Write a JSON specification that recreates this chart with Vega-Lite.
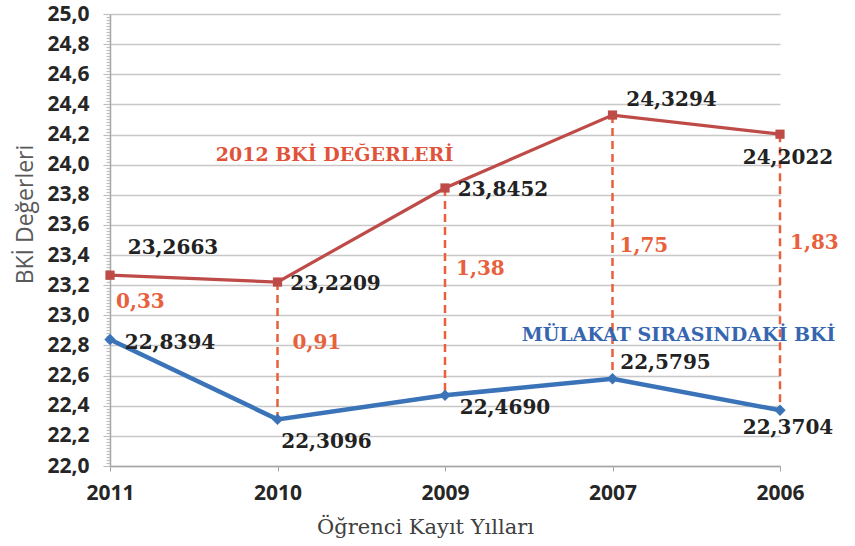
{
  "$schema": "https://vega.github.io/schema/vega-lite/v6.json",
  "width": 670,
  "height": 452,
  "autosize": "none",
  "padding": {"left": 110, "top": 14, "right": 75, "bottom": 80},
  "background": "white",
  "config": {"view": {"stroke": null}},
  "data": {"values": [
    {"year": "2011", "red": 23.2663, "blue": 22.8394, "redLabel": "23,2663", "blueLabel": "22,8394", "diff": "0,33"},
    {"year": "2010", "red": 23.2209, "blue": 22.3096, "redLabel": "23,2209", "blueLabel": "22,3096", "diff": "0,91"},
    {"year": "2009", "red": 23.8452, "blue": 22.4690, "redLabel": "23,8452", "blueLabel": "22,4690", "diff": "1,38"},
    {"year": "2007", "red": 24.3294, "blue": 22.5795, "redLabel": "24,3294", "blueLabel": "22,5795", "diff": "1,75"},
    {"year": "2006", "red": 24.2022, "blue": 22.3704, "redLabel": "24,2022", "blueLabel": "22,3704", "diff": "1,83"}
  ]},
  "encoding": {
    "x": {
      "field": "year", "type": "ordinal",
      "sort": ["2011", "2010", "2009", "2007", "2006"],
      "scale": {"type": "point", "padding": 0},
      "axis": {
        "title": "Öğrenci Kayıt Yılları",
        "titleFont": "DejaVu Serif", "titleFontSize": 21, "titleFontWeight": "normal", "titleColor": "#404040",
        "titleX": 315, "titleY": 61, "titleAlign": "center", "titleBaseline": "middle",
        "labelAngle": 0, "labelFont": "Open Sans", "labelFontWeight": "bold", "labelFontSize": 21,
        "labelColor": "#262626", "labelPadding": 11,
        "tickColor": "#A6A6A6", "tickSize": 5, "domainColor": "#A6A6A6", "domainWidth": 1.5, "grid": false
      }
    }
  },
  "layer": [
    {
      "transform": [{"filter": "datum.year != '2011'"}],
      "mark": {"type": "rule", "color": "#E8603C", "strokeDash": [8, 5], "strokeWidth": 2.5},
      "encoding": {
        "y": {
          "field": "red", "type": "quantitative",
          "scale": {"domain": [22, 25], "nice": false, "zero": false},
          "axis": {
            "title": "BKİ Değerleri",
            "titleFont": "Open Sans", "titleFontSize": 23, "titleFontWeight": "normal", "titleColor": "#595959",
            "titleX": -85, "titleY": 200, "titleAngle": -90, "titleAlign": "center", "titleBaseline": "middle",
            "tickCount": 150, "labelOverlap": false,
            "labelExpr": "abs(datum.value*5 - round(datum.value*5)) < 0.01 ? replace(format(datum.value, '.1f'), '.', ',') : ''",
            "labelFont": "Open Sans", "labelFontWeight": "bold", "labelFontSize": 21, "labelColor": "#262626",
            "labelPadding": 14,
            "tickColor": "#BFBFBF", "tickWidth": 1.2,
            "tickSize": {"condition": {"test": "abs(datum.value*5 - round(datum.value*5)) < 0.01", "value": 7}, "value": 4},
            "gridColor": "#C8C8C8", "gridWidth": 1.5,
            "gridOpacity": {"condition": {"test": "abs(datum.value*5 - round(datum.value*5)) < 0.01", "value": 1}, "value": 0},
            "domainColor": "#A6A6A6", "domainWidth": 1.5
          }
        },
        "y2": {"field": "blue"}
      }
    },
    {
      "mark": {"type": "line", "color": "#BE4B48", "strokeWidth": 3.2,
        "point": {"shape": "square", "size": 85, "filled": true, "color": "#BE4B48"}},
      "encoding": {"y": {"field": "red", "type": "quantitative"}}
    },
    {
      "mark": {"type": "line", "color": "#3B73B9", "strokeWidth": 4.5,
        "point": {"shape": "diamond", "size": 130, "filled": true, "color": "#3B73B9"}},
      "encoding": {"y": {"field": "blue", "type": "quantitative"}}
    },
    {
      "transform": [{"filter": "datum.year == '2010'"}],
      "mark": {"type": "text", "font": "DejaVu Serif", "fontWeight": "bold", "fontSize": 19, "color": "#E0533A",
        "align": "center", "baseline": "middle", "dx": 57, "dy": -127},
      "encoding": {"y": {"field": "red", "type": "quantitative"}, "text": {"value": "2012 BKİ DEĞERLERİ"}}
    },
    {
      "transform": [{"filter": "datum.year == '2007'"}],
      "mark": {"type": "text", "font": "DejaVu Serif", "fontWeight": "bold", "fontSize": 19, "color": "#3666B0",
        "align": "center", "baseline": "middle", "dx": 66, "dy": -44},
      "encoding": {"y": {"field": "blue", "type": "quantitative"}, "text": {"value": "MÜLAKAT SIRASINDAKİ BKİ"}}
    },
    {
      "transform": [{"filter": "datum.year == '2010' || datum.year == '2009'"}],
      "mark": {"type": "text", "font": "DejaVu Serif", "fontWeight": "bold", "fontSize": 20, "color": "#222222",
        "align": "center", "baseline": "middle", "dx": 58, "dy": 2},
      "encoding": {"y": {"field": "red", "type": "quantitative"}, "text": {"field": "redLabel"}}
    },
    {
      "transform": [{"filter": "datum.year == '2011'"}],
      "mark": {"type": "text", "font": "DejaVu Serif", "fontWeight": "bold", "fontSize": 20, "color": "#222222",
        "align": "center", "baseline": "middle", "dx": 63, "dy": -27},
      "encoding": {"y": {"field": "red", "type": "quantitative"}, "text": {"field": "redLabel"}}
    },
    {
      "transform": [{"filter": "datum.year == '2007'"}],
      "mark": {"type": "text", "font": "DejaVu Serif", "fontWeight": "bold", "fontSize": 20, "color": "#222222",
        "align": "center", "baseline": "middle", "dx": 59, "dy": -15},
      "encoding": {"y": {"field": "red", "type": "quantitative"}, "text": {"field": "redLabel"}}
    },
    {
      "transform": [{"filter": "datum.year == '2006'"}],
      "mark": {"type": "text", "font": "DejaVu Serif", "fontWeight": "bold", "fontSize": 20, "color": "#222222",
        "align": "center", "baseline": "middle", "dx": 8, "dy": 24},
      "encoding": {"y": {"field": "red", "type": "quantitative"}, "text": {"field": "redLabel"}}
    },
    {
      "transform": [{"filter": "datum.year == '2011'"}],
      "mark": {"type": "text", "font": "DejaVu Serif", "fontWeight": "bold", "fontSize": 20, "color": "#222222",
        "align": "center", "baseline": "middle", "dx": 60, "dy": 3},
      "encoding": {"y": {"field": "blue", "type": "quantitative"}, "text": {"field": "blueLabel"}}
    },
    {
      "transform": [{"filter": "datum.year == '2010'"}],
      "mark": {"type": "text", "font": "DejaVu Serif", "fontWeight": "bold", "fontSize": 20, "color": "#222222",
        "align": "center", "baseline": "middle", "dx": 49, "dy": 23},
      "encoding": {"y": {"field": "blue", "type": "quantitative"}, "text": {"field": "blueLabel"}}
    },
    {
      "transform": [{"filter": "datum.year == '2009'"}],
      "mark": {"type": "text", "font": "DejaVu Serif", "fontWeight": "bold", "fontSize": 20, "color": "#222222",
        "align": "center", "baseline": "middle", "dx": 60, "dy": 13},
      "encoding": {"y": {"field": "blue", "type": "quantitative"}, "text": {"field": "blueLabel"}}
    },
    {
      "transform": [{"filter": "datum.year == '2007'"}],
      "mark": {"type": "text", "font": "DejaVu Serif", "fontWeight": "bold", "fontSize": 20, "color": "#222222",
        "align": "center", "baseline": "middle", "dx": 53, "dy": -16},
      "encoding": {"y": {"field": "blue", "type": "quantitative"}, "text": {"field": "blueLabel"}}
    },
    {
      "transform": [{"filter": "datum.year == '2006'"}],
      "mark": {"type": "text", "font": "DejaVu Serif", "fontWeight": "bold", "fontSize": 20, "color": "#222222",
        "align": "center", "baseline": "middle", "dx": 8, "dy": 18},
      "encoding": {"y": {"field": "blue", "type": "quantitative"}, "text": {"field": "blueLabel"}}
    },
    {
      "transform": [{"filter": "datum.year == '2011'"}],
      "mark": {"type": "text", "font": "DejaVu Serif", "fontWeight": "bold", "fontSize": 20, "color": "#E8603C",
        "align": "left", "baseline": "middle", "dx": 6, "dy": 27},
      "encoding": {"y": {"field": "red", "type": "quantitative"}, "text": {"field": "diff"}}
    },
    {
      "transform": [{"filter": "datum.year == '2010'"}],
      "mark": {"type": "text", "font": "DejaVu Serif", "fontWeight": "bold", "fontSize": 20, "color": "#E8603C",
        "align": "left", "baseline": "middle", "dx": 15, "dy": 61},
      "encoding": {"y": {"field": "red", "type": "quantitative"}, "text": {"field": "diff"}}
    },
    {
      "transform": [{"filter": "datum.year == '2009'"}],
      "mark": {"type": "text", "font": "DejaVu Serif", "fontWeight": "bold", "fontSize": 20, "color": "#E8603C",
        "align": "left", "baseline": "middle", "dx": 11, "dy": 81},
      "encoding": {"y": {"field": "red", "type": "quantitative"}, "text": {"field": "diff"}}
    },
    {
      "transform": [{"filter": "datum.year == '2007'"}],
      "mark": {"type": "text", "font": "DejaVu Serif", "fontWeight": "bold", "fontSize": 20, "color": "#E8603C",
        "align": "left", "baseline": "middle", "dx": 7, "dy": 131},
      "encoding": {"y": {"field": "red", "type": "quantitative"}, "text": {"field": "diff"}}
    },
    {
      "transform": [{"filter": "datum.year == '2006'"}],
      "mark": {"type": "text", "font": "DejaVu Serif", "fontWeight": "bold", "fontSize": 20, "color": "#E8603C",
        "align": "left", "baseline": "middle", "dx": 10, "dy": 109},
      "encoding": {"y": {"field": "red", "type": "quantitative"}, "text": {"field": "diff"}}
    }
  ]
}
